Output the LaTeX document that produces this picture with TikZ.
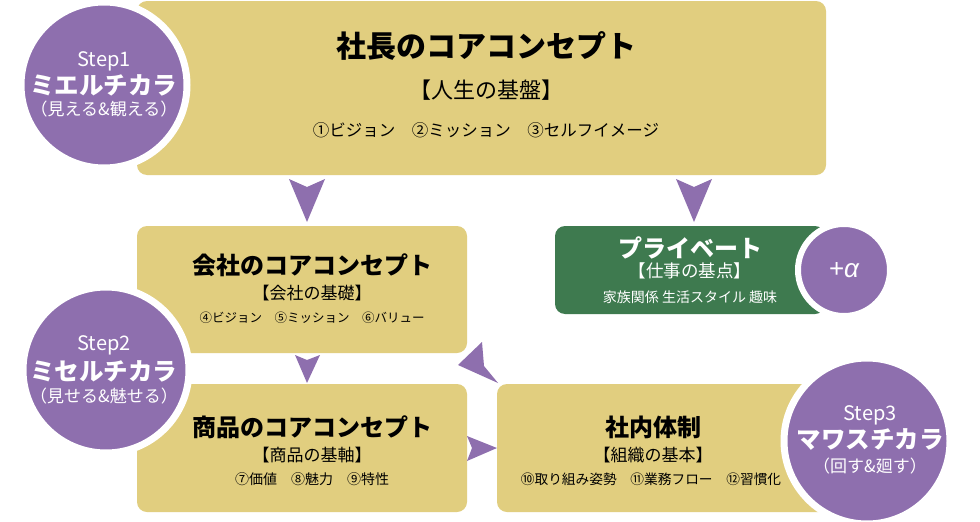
\documentclass[tikz,border=0pt]{standalone}
\usepackage{fontspec}
\setmainfont{Noto Sans CJK JP}
\newfontfamily\latf{Liberation Sans}
\definecolor{tanc}{HTML}{E1CE7F}
\definecolor{vio}{HTML}{8E6FAE}
\definecolor{grn}{HTML}{3E7A4F}
\begin{document}
\begin{tikzpicture}[x=1pt,y=-1pt,
  box/.style={fill=tanc, rounded corners=10pt, inner sep=0pt},
  gbox/.style={fill=grn, rounded corners=10pt, inner sep=0pt},
  stepc/.style={circle, fill=vio, draw=white, line width=7pt, inner sep=0pt, minimum size=166pt},
  alphac/.style={circle, fill=vio, draw=white, line width=6pt, inner sep=0pt, minimum size=92pt},
  tip/.style={fill=vio},
  ttl/.style={font=\bfseries\fontsize{#1}{#1}\selectfont, inner sep=0pt},
  txt/.style={font=\fontsize{#1}{#1}\selectfont, inner sep=0pt},
  wt/.style={text=white}
]
\useasboundingbox (0,0) rectangle (980,522);
\fill[white] (0,0) rectangle (980,522);

% boxes
\node[box, minimum width=689pt, minimum height=174pt] (top) at (481.5,88) {};
\node[box, minimum width=330pt, minimum height=127pt] (comp) at (302,289.5) {};
\node[box, minimum width=330pt, minimum height=128pt] (prod) at (302,448) {};
\node[box, minimum width=340pt, minimum height=128pt] (org) at (667,448) {};
\node[gbox, minimum width=270pt, minimum height=88pt] (priv) at (690,270) {};

% arrowheads
\coordinate (a1) at (307,179);
\fill[tip] (a1) ++(-18,0) -- ++(18,8) -- ++(18,-8) -- (307,222) -- cycle;
\coordinate (a2) at (694,179);
\fill[tip] (a2) ++(-18,0) -- ++(18,8) -- ++(18,-8) -- (694,222) -- cycle;
\fill[tip] (295,355) -- (307,360) -- (320,355) -- (307,383) -- cycle;
\fill[tip] (458,365) -- (482,342) -- (484,366) -- (498,383) -- cycle;
\fill[tip] (467,436) -- (472,448) -- (467,461) -- (497,448) -- cycle;

% circles
\node[stepc] (s1) at (104,85) {};
\node[stepc] (s2) at (106,370) {};
\node[stepc] (s3) at (867,441) {};
\node[alphac] (al) at (844,270) {};

% top box text
\node[ttl=30] (t1) at (486,46) {社長のコアコンセプト};
\node[txt=22] (t2) at (486,90) {【人生の基盤】};
\node[txt=16.5] (t3) at (486,130) {①ビジョン\hspace{1em}②ミッション\hspace{1em}③セルフイメージ};

% company
\node[ttl=24] (c1) at (312,265) {会社のコアコンセプト};
\node[txt=17] (c2) at (312,293) {【会社の基礎】};
\node[txt=12.5] (c3) at (312,318) {④ビジョン\hspace{1em}⑤ミッション\hspace{1em}⑥バリュー};

% product
\node[ttl=24] (p1) at (312,427) {商品のコアコンセプト};
\node[txt=17] (p2) at (312,455) {【商品の基軸】};
\node[txt=14] (p3) at (312,479) {⑦価値\hspace{1em}⑧魅力\hspace{1em}⑨特性};

% organisation
\node[ttl=24] (o1) at (653,427) {社内体制};
\node[txt=17] (o2) at (653,455) {【組織の基本】};
\node[txt=13.7] (o3) at (651,479) {⑩取り組み姿勢\hspace{1em}⑪業務フロー\hspace{1em}⑫習慣化};

% private
\node[ttl=24, wt] (v1) at (690,248) {プライベート};
\node[txt=17.5, wt] (v2) at (690,271) {【仕事の基点】};
\node[txt=14, wt] (v3) at (690,297) {家族関係 生活スタイル 趣味};

% alpha
\node[txt=26, wt] (alt) at (al) {{\latf +}{\latf\itshape α}};

% step texts
\node[txt=20, wt] (s1a) at (104,61) {Step1};
\node[ttl=24.5, wt] (s1b) at (104,85) {ミエルチカラ};
\node[txt=17, wt] (s1c) at (104,109) {（見える\&観える）};

\node[txt=20, wt] (s2a) at (104,345) {Step2};
\node[ttl=24.5, wt] (s2b) at (104,371) {ミセルチカラ};
\node[txt=17, wt] (s2c) at (104,396) {（見せる\&魅せる）};

\node[txt=20, wt] (s3a) at (870,415) {Step3};
\node[ttl=24.5, wt] (s3b) at (870,440) {マワスチカラ};
\node[txt=17, wt] (s3c) at (870,466) {（回す\&廻す）};
\end{tikzpicture}
\end{document}
